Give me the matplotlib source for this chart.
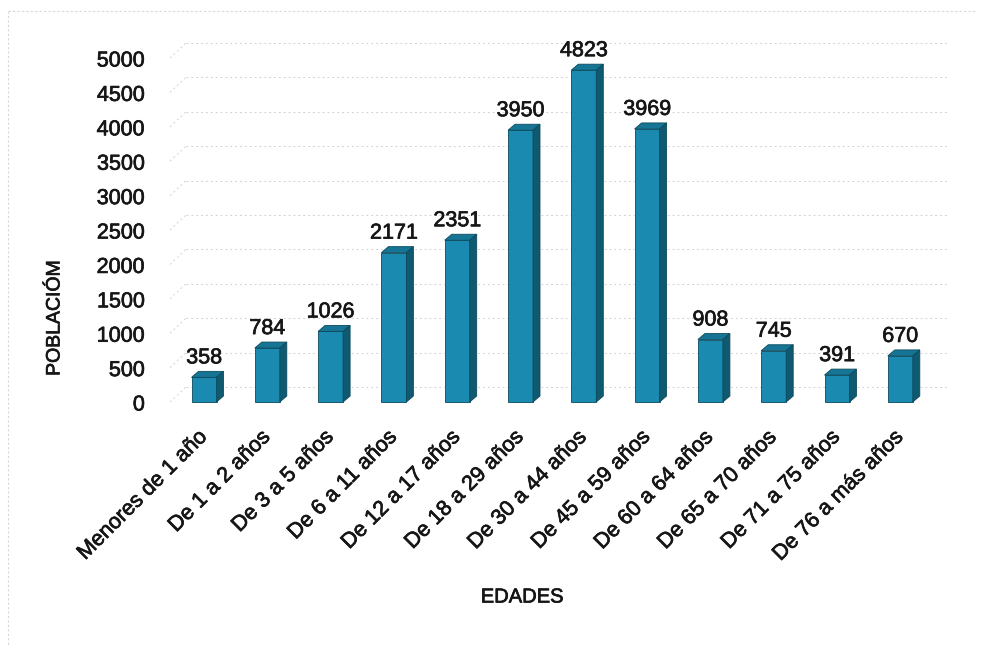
import matplotlib
matplotlib.use("Agg")
import matplotlib.pyplot as plt
import matplotlib.patheffects as pe
from matplotlib.patches import Polygon
from matplotlib.lines import Line2D
import numpy as np

plt.rcParams["font.family"] = ["Liberation Sans", "DejaVu Sans"]

categories = ["Menores de 1 año", "De 1 a 2 años", "De 3 a 5 años", "De 6 a 11 años",
              "De 12 a 17 años", "De 18 a 29 años", "De 30 a 44 años", "De 45 a 59 años",
              "De 60 a 64 años", "De 65 a 70 años", "De 71 a 75 años", "De 76 a más años"]
poblacion = [358, 784, 1026, 2171, 2351, 3950, 4823, 3969, 908, 745, 391, 670]
y_ticks = list(range(0, 5001, 500))

W, H = 983, 647
fig = plt.figure(figsize=(W / 100, H / 100), dpi=100)
fig.patch.set_facecolor("white")

ink = "#161616"
heavy = [pe.withStroke(linewidth=0.5, foreground=ink)]

# front plane of the plot area, in pixels from the top-left corner
L, R, T, B = 170, 930, 58, 402
first_px, step_px = 204, 63.3
ax = fig.add_axes([L / W, 1 - B / H, (R - L) / W, (B - T) / H])
xmin = (L - first_px) / step_px
xmax = (R - first_px) / step_px
ax.set_xlim(xmin, xmax)
ax.set_ylim(0, 5000)
ax.axis("off")

dpx_x = (xmax - xmin) / (R - L)   # data units per pixel
dpx_y = 5000 / (B - T)

# back wall gridlines plus the receding lines on the left wall
wall_dx, wall_dy = 16 * dpx_x, 15 * dpx_y
back_right = (947 - first_px) / step_px
grid_kw = dict(color="#d2d2d2", lw=0.7, ls=(0, (2, 3)), clip_on=False, zorder=1)
for t in y_ticks:
    ax.plot([xmin + wall_dx, back_right], [t + wall_dy, t + wall_dy], **grid_kw)
    ax.plot([xmin, xmin + wall_dx], [t, t + wall_dy], **grid_kw)

# bars with a top and a side face for the depth effect
x = np.arange(len(categories))
bw = 25 * dpx_x
bdx, bdy = 7 * dpx_x, 6 * dpx_y
c_front, c_top, c_side, c_edge = "#1a8ab0", "#167595", "#0f5a70", "#0c4a5c"
ax.bar(x, poblacion, width=bw, color=c_front, edgecolor=c_edge, lw=0.6, zorder=3,
       clip_on=False)
for xi, v in zip(x, poblacion):
    xl, xr = xi - bw / 2, xi + bw / 2
    top = Polygon([(xl, v), (xr, v), (xr + bdx, v + bdy), (xl + bdx, v + bdy)],
                  closed=True, facecolor=c_top, edgecolor=c_edge, lw=0.6, zorder=4,
                  clip_on=False)
    side = Polygon([(xr, 0), (xr, v), (xr + bdx, v + bdy), (xr + bdx, bdy)],
                   closed=True, facecolor=c_side, edgecolor=c_edge, lw=0.6, zorder=4,
                   clip_on=False)
    ax.add_patch(top)
    ax.add_patch(side)
    ax.annotate(str(v), (xi, v), xytext=(0, 14), textcoords="offset pixels",
                ha="center", va="baseline", fontsize=15.5, color=ink, zorder=5,
                annotation_clip=False, path_effects=heavy)

# value axis labels
for t in y_ticks:
    ax.annotate(str(t), (xmin, t), xytext=(-25, -3), textcoords="offset pixels",
                ha="right", va="center", fontsize=15.5, color=ink,
                annotation_clip=False, path_effects=heavy)

# category labels
for xi, name in zip(x, categories):
    ax.annotate(name, (xi, 0), xytext=(-8, -25), textcoords="offset pixels",
                ha="right", va="top", rotation=45, rotation_mode="anchor",
                fontsize=15.5, color=ink, annotation_clip=False, path_effects=heavy)

fig.text(522 / W, 1 - 597 / H, "EDADES", ha="center", va="center", fontsize=14.5,
         color=ink, path_effects=heavy)
fig.text(55 / W, 1 - 318 / H, "POBLACIÓM", ha="center", va="center", rotation=90,
         fontsize=14, color=ink, path_effects=heavy)

# faint frame around the chart
frame_kw = dict(color="#d8d8d8", lw=0.8, ls=(0, (2, 2)), transform=fig.transFigure)
fig.add_artist(Line2D([8 / W, 975 / W], [1 - 11 / H, 1 - 11 / H], **frame_kw))
fig.add_artist(Line2D([8 / W, 8 / W], [1 - 11 / H, 0], **frame_kw))

fig.savefig("out.png", dpi=100, facecolor="white")
